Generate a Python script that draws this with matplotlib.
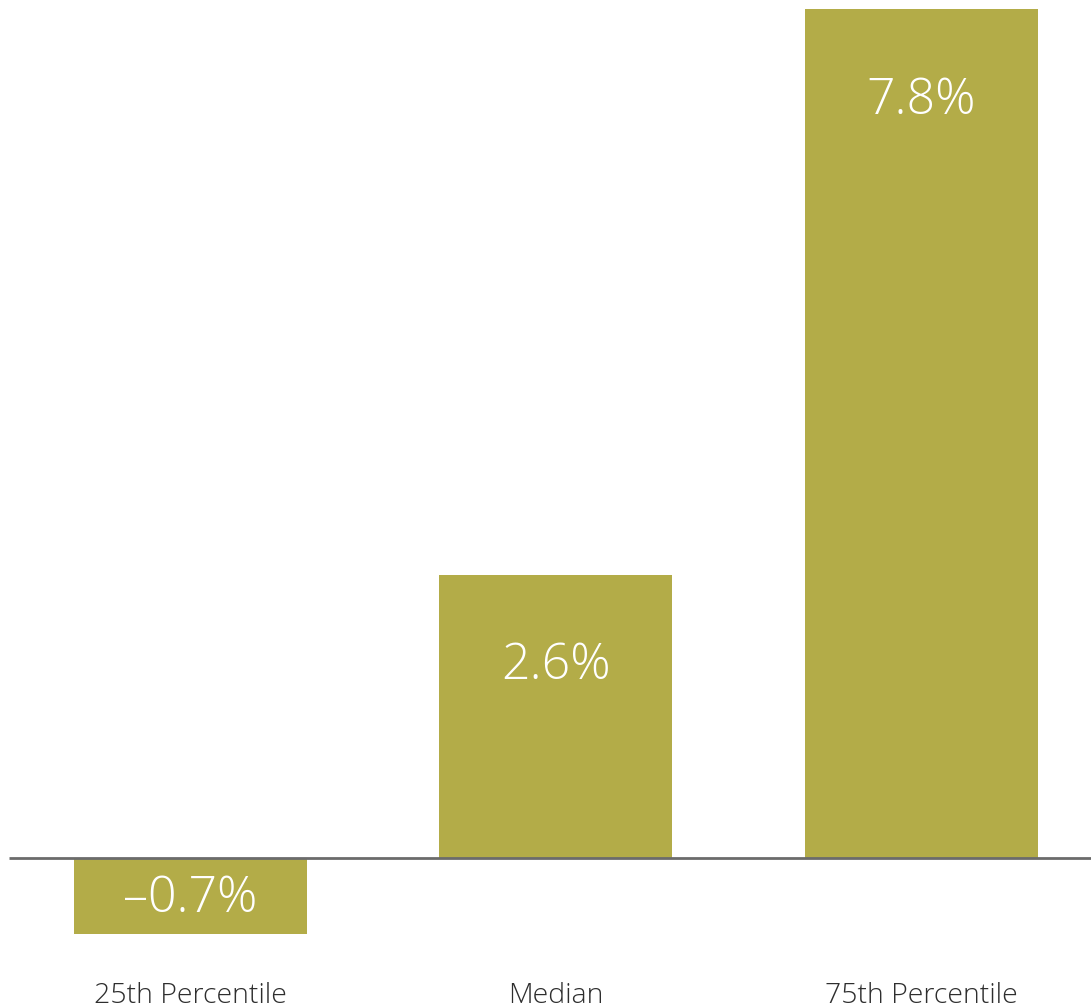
import matplotlib
matplotlib.use('Agg')
import matplotlib.pyplot as plt

categories = ['25th Percentile', 'Median', '75th Percentile']
values = [-0.7, 2.6, 7.8]
labels = ['\u20130.7%', '2.6%', '7.8%']

BAR = '#b3ac48'

fig = plt.figure(figsize=(10.91, 10.08), dpi=100)
ax = fig.add_axes([0, 0, 1, 1])
xs = list(range(len(categories)))
ax.bar(xs, values, width=0.638, color=BAR, zorder=2)

ax.set_xlim(-0.5215, 2.465)
ax.set_ylim(-1.379, 7.886)
ax.hlines(0, -0.497, 2.465, color='#6b6b6b', lw=2, zorder=3)

for x, v, lab, cat in zip(xs, values, labels, categories):
    y = v - 0.84 if v > 0 else v / 2 - 0.03
    ax.text(x, y, lab, ha='center', va='center', color='white',
            fontsize=36, family='Open Sans', fontweight='light')
    ax.text(x, -1.265, cat, ha='center', va='center', color='#2e2e2e',
            fontsize=20.5, family='Open Sans', fontweight='light')

ax.axis('off')
fig.savefig('out.png', dpi=100)
